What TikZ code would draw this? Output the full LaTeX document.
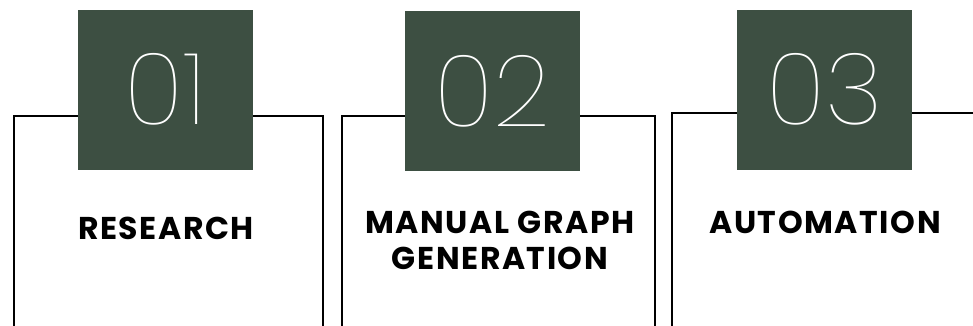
\documentclass[tikz,border=0pt]{standalone}
\usepackage{fontspec}
\setmainfont{Poppins}
\newfontfamily\numfont{Poppins Thin}
\newfontfamily\labelfont{Poppins}[LetterSpace=5]
\definecolor{darkgreen}{HTML}{3D4F42}

\begin{document}
\begin{tikzpicture}[x=1pt, y=-1pt,
  panel/.style={line width=2.4pt},
  numbox/.style={fill=darkgreen, minimum width=175pt, minimum height=160pt, inner sep=0pt,
    text=white, font=\numfont\fontsize{100}{100}\selectfont},
  steplabel/.style={font=\labelfont\bfseries\fontsize{31.5}{36}\selectfont, align=center}]

  \useasboundingbox (0,0) rectangle (973,325);

  % open boxes, bottom cut off
  \draw [panel] (14,330) |- (323,116) -- (323,330);
  \draw [panel] (342,330) |- (655,116) -- (655,330);
  \draw [panel] (672,330) |- (990,113);

  \node [numbox] (one) at (165.5,89.5) {01};
  \node [numbox] (two) at (492.5,91) {02};
  \node [numbox] (three) at (824.5,89.5) {03};

  \node [steplabel] (research) at (166,228) {RESEARCH};
  \node [steplabel] (manual) at (500,240) {MANUAL GRAPH\\GENERATION};
  \node [steplabel] (automation) at (825,222) {AUTOMATION};

\end{tikzpicture}
\end{document}
